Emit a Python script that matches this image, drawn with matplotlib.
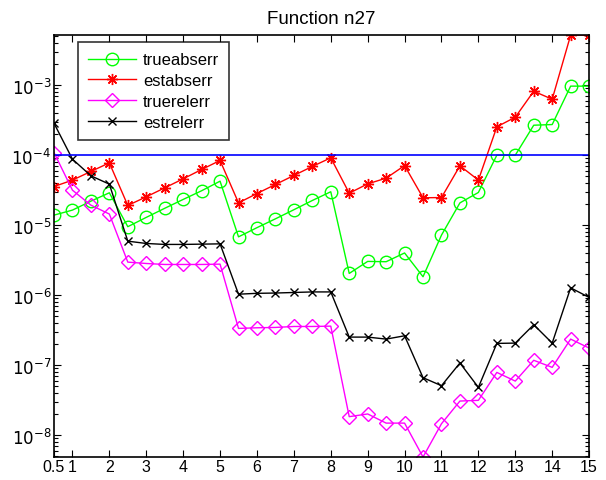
import matplotlib.pyplot as plt
import numpy as np
from matplotlib.ticker import LogLocator, NullFormatter

plt.rcParams['font.family'] = ['Liberation Sans', 'DejaVu Sans']

# step sizes and error estimates for function n27
h = np.arange(0.5, 15.01, 0.5)

trueabserr = [1.39e-5, 1.64e-5, 2.2e-5, 2.9e-5, 9.5e-6, 1.29e-5, 1.74e-5, 2.33e-5, 3.1e-5, 4.25e-5,
              6.8e-6, 9.2e-6, 1.23e-5, 1.66e-5, 2.25e-5, 3.0e-5, 2.04e-6, 3.03e-6, 3.0e-6, 4.0e-6,
              1.83e-6, 7.2e-6, 2.08e-5, 2.93e-5, 1.0e-4, 1.0e-4, 2.68e-4, 2.74e-4, 9.7e-4, 9.7e-4]
estabserr = [3.56e-5, 4.4e-5, 5.85e-5, 7.77e-5, 1.91e-5, 2.54e-5, 3.41e-5, 4.59e-5, 6.24e-5, 8.4e-5,
             2.08e-5, 2.83e-5, 3.81e-5, 5.13e-5, 6.9e-5, 9.16e-5, 2.86e-5, 3.89e-5, 4.69e-5, 7.1e-5,
             2.46e-5, 2.48e-5, 7.05e-5, 4.4e-5, 2.54e-4, 3.49e-4, 8.2e-4, 6.3e-4, 5.19e-3, 5.19e-3]
truerelerr = [1.09e-4, 3.16e-5, 1.93e-5, 1.44e-5, 2.96e-6, 2.83e-6, 2.74e-6, 2.74e-6, 2.74e-6, 2.77e-6,
              3.34e-7, 3.41e-7, 3.45e-7, 3.56e-7, 3.56e-7, 3.6e-7, 1.83e-8, 2.0e-8, 1.48e-8, 1.48e-8,
              4.85e-9, 1.45e-8, 3.06e-8, 3.13e-8, 7.85e-8, 5.9e-8, 1.17e-7, 9.27e-8, 2.35e-7, 1.75e-7]
estrelerr = [2.86e-4, 8.77e-5, 5.07e-5, 3.85e-5, 5.9e-6, 5.47e-6, 5.3e-6, 5.3e-6, 5.35e-6, 5.4e-6,
             1.03e-6, 1.06e-6, 1.07e-6, 1.09e-6, 1.11e-6, 1.11e-6, 2.51e-7, 2.51e-7, 2.35e-7, 2.62e-7,
             6.6e-8, 5.07e-8, 1.07e-7, 4.8e-8, 2.04e-7, 2.06e-7, 3.77e-7, 2.06e-7, 1.27e-6, 9.27e-7]
tol = 1e-4

xticks = [0.5] + list(range(1, 16))
xticklabels = ['0.5'] + [str(i) for i in range(1, 16)]
yexp = [-8, -7, -6, -5, -4, -3]

fig = plt.figure(figsize=(6.06, 4.81), dpi=100)
ax = fig.add_axes([0.0891, 0.0478, 0.883, 0.877])

asterisk = (8, 2, 0)
ax.plot(h, trueabserr, '-o', color='#00ff00', lw=1, ms=9, mfc='none', mew=1, label='trueabserr')
ax.plot(h, estabserr, '-', marker=asterisk, color='#ff0000', lw=1, ms=8, mew=1, label='estabserr')
ax.plot(h, truerelerr, '-D', color='#ff00ff', lw=1, ms=7.5, mfc='none', mew=1, label='truerelerr')
ax.plot(h, estrelerr, '-x', color='black', lw=1, ms=6, mew=1, label='estrelerr')
ax.axhline(tol, color='#0000ff', lw=1.2)

ax.set_yscale('log')
ax.set_xlim(0.5, 15)
ax.set_ylim(min(truerelerr), max(estabserr))
ax.set_xticks(xticks)
ax.set_xticklabels(xticklabels)
ax.set_yticks([10.0 ** e for e in yexp])
ax.set_yticklabels([r'$10^{%d}$' % e for e in yexp])
ax.yaxis.set_minor_locator(LogLocator(base=10, subs=np.arange(2, 10), numticks=20))
ax.yaxis.set_minor_formatter(NullFormatter())
ax.tick_params(which='both', direction='in', top=True, right=True, labelsize=12, width=0.8, pad=2)
ax.tick_params(axis='x', labelsize=11.5, pad=1.5)
ax.tick_params(which='major', length=5)
ax.tick_params(which='minor', length=3)
for s in ax.spines.values():
    s.set_linewidth(1.2)

ax.set_title('Function n27', fontsize=13.5, pad=9)
leg = ax.legend(loc='upper left', bbox_to_anchor=(0.045, 0.983), borderaxespad=0, fontsize=12,
                fancybox=False, edgecolor='black', handlelength=2.9, handletextpad=0.4,
                borderpad=0.6, labelspacing=0.35)
leg.get_frame().set_linewidth(1.2)

fig.savefig('out.png', dpi=100)
